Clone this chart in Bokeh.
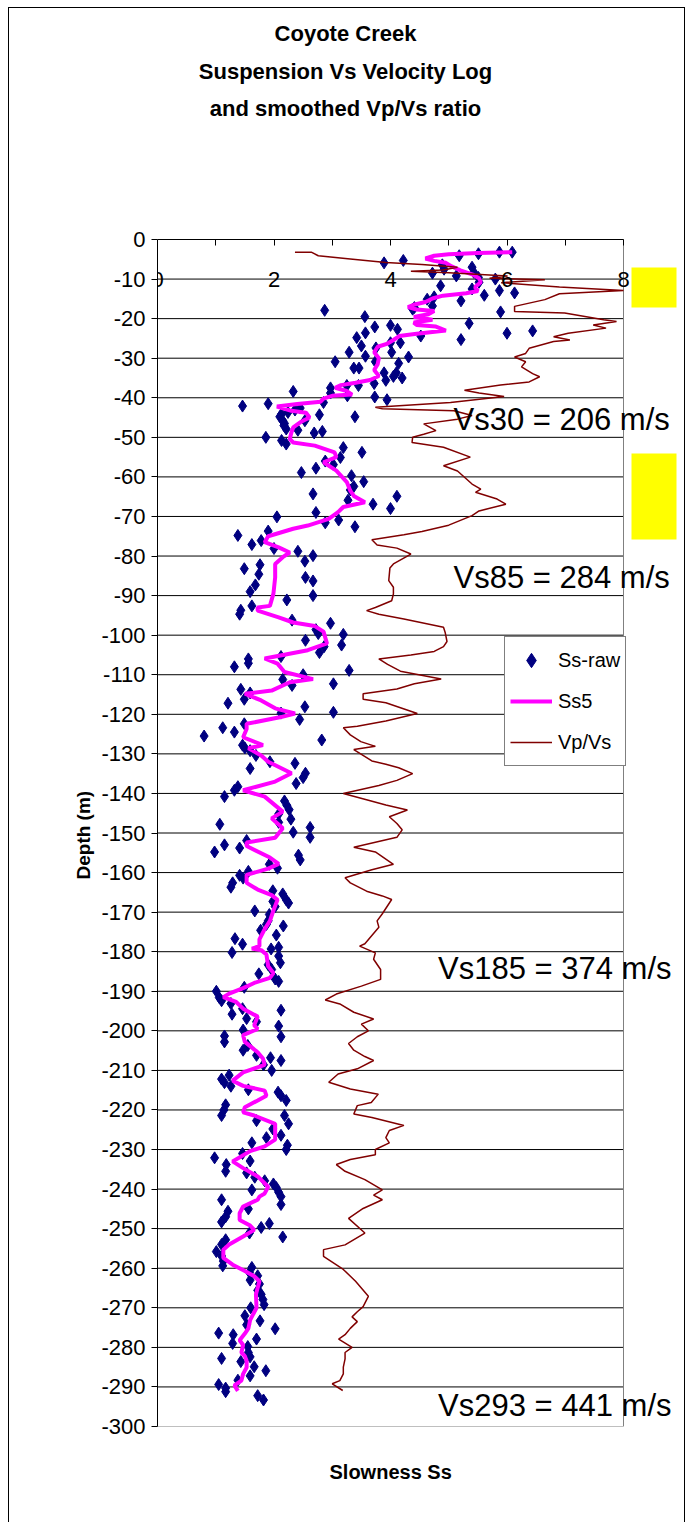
from bokeh.plotting import figure
from bokeh.layouts import column
from bokeh.models import (LinearAxis, FixedTicker, Label, BoxAnnotation, Legend, LegendItem,
                          Range1d, Title)
from bokeh.embed import file_html
from bokeh.resources import INLINE

# ---------------- data ----------------
ss_raw_depth = [
    -3.2, -3.2, -3.6, -4.1, -5.3, -5.9, -6.4, -7.0, -7.5, -8.3, -8.5, -9.2, -9.6, -10.0, -10.8,
    -11.7, -12.5, -12.9, -13.5, -14.1, -14.5, -15.1, -15.5, -16.8, -17.2, -17.6, -17.9, -18.3,
    -19.5, -21.2, -21.7, -22.1, -22.7, -23.1, -23.6, -23.7, -24.4, -24.8, -25.3, -26.1, -26.1,
    -26.9, -27.4, -28.5, -28.5, -29.5, -29.7, -30.9, -30.9, -31.3, -32.5, -32.5, -33.7, -33.7,
    -34.6, -35.0, -35.6, -36.4, -36.9, -36.9, -37.5, -38.4, -38.8, -39.5, -39.8, -40.5, -41.2,
    -41.5, -42.1, -42.6, -43.1, -43.7, -44.1, -44.3, -44.8, -44.8, -45.8, -45.8, -46.5, -47.0,
    -47.9, -48.2, -48.5, -48.9, -50.0, -50.8, -51.7, -52.6, -53.8, -55.1, -56.0, -56.9, -57.8,
    -58.9, -59.7, -61.2, -62.4, -63.3, -64.3, -64.9, -65.9, -66.9, -68.0, -69.0, -70.1, -70.9,
    -71.6, -72.6, -73.7, -74.8, -76.1, -77.1, -78.1, -78.8, -79.9, -81.3, -82.2, -83.2, -84.6,
    -85.4, -86.3, -87.3, -89.0, -90.0, -91.1, -92.6, -93.7, -94.7, -96.2, -97.0, -98.6, -99.6,
    -99.8, -101.3, -102.5, -102.9, -104.4, -105.4, -106.0, -107.1, -108.0, -108.9, -110.0,
    -111.2, -112.3, -112.7, -113.7, -114.6, -116.2, -117.2, -118.1, -119.5, -119.7, -121.3,
    -122.4, -123.4, -124.5, -125.5, -126.5, -127.8, -128.5, -129.2, -130.4, -132.0, -132.4,
    -133.7, -134.9, -136.0, -137.5, -138.3, -139.2, -140.8, -141.9, -143.0, -144.1, -145.2,
    -146.5, -147.3, -147.8, -148.6, -149.8, -151.1, -151.9, -153.0, -153.8, -154.8, -155.6,
    -156.8, -157.9, -158.9, -159.7, -160.7, -161.4, -162.6, -163.7, -164.6, -165.4, -166.9,
    -167.3, -167.7, -168.6, -169.7, -170.6, -172.2, -173.1, -173.5, -174.6, -175.8, -176.7,
    -178.1, -178.9, -179.3, -180.2, -181.1, -182.8, -183.3, -184.5, -185.6, -186.9, -187.5,
    -189.0, -190.0, -191.6, -192.4, -193.1, -194.4, -194.8, -195.8, -196.9, -197.7, -198.8,
    -199.8, -201.3, -201.5, -202.8, -203.7, -204.9, -206.2, -206.8, -207.5, -208.6, -210.0,
    -211.2, -212.2, -213.1, -214.0, -214.9, -215.5, -216.4, -217.6, -218.7, -220.0, -221.4,
    -221.4, -222.7, -223.5, -224.8, -226.4, -227.0, -228.3, -228.9, -230.0, -231.0, -232.1,
    -232.9, -233.8, -235.5, -235.9, -237.0, -237.9, -238.7, -239.6, -240.2, -240.8, -241.9,
    -242.7, -243.9, -245.0, -245.6, -247.0, -248.3, -248.7, -249.7, -251.1, -252.1, -252.8,
    -254.0, -255.8, -256.9, -258.2, -259.4, -259.8, -261.1, -261.9, -263.0, -264.0, -265.6,
    -266.6, -267.9, -269.2, -270.0, -272.0, -273.3, -274.3, -275.3, -276.4, -276.8, -277.9,
    -279.0, -279.8, -281.3, -282.4, -282.8, -283.6, -284.9, -285.9, -287.2, -288.3, -289.4,
    -290.3, -291.2, -292.2, -293.3,
]
ss_raw_slowness = [
    6.09, 5.87, 5.51, 5.18, 4.22, 3.89, 4.89, 5.40, 4.92, 5.43, 4.72, 5.13, 5.51, 5.80, 5.52,
    4.86, 5.40, 5.87, 6.13, 5.61, 4.75, 4.63, 5.21, 4.72, 4.41, 4.38, 2.87, 5.89,
    3.56, 5.35, 4.00, 3.73, 4.12, 6.44, 3.57, 6.00, 4.52, 3.42, 5.21, 4.17, 4.00,
    3.50, 3.75, 3.29, 4.02, 3.57, 4.31, 3.05, 3.74, 4.14, 3.37, 3.46, 3.89, 4.10,
    4.05, 4.20, 3.92, 3.72, 3.25, 3.45, 2.97, 2.33, 2.97, 3.26, 3.73, 3.94, 2.85,
    1.90, 1.46, 2.45, 2.36, 2.24, 2.13, 2.78, 3.39, 2.10, 2.15, 2.53, 2.18, 2.17,
    2.21, 2.41, 2.83, 2.69, 1.86, 2.13, 2.21, 3.19, 3.51, 3.14, 2.88, 3.02, 2.72,
    2.47, 3.33, 3.54, 3.37, 3.31, 2.67, 4.11, 3.27, 3.70, 4.00, 2.72, 2.05, 3.11,
    2.88, 3.39, 1.90, 1.38, 1.78, 1.62, 2.00, 2.41, 2.67, 2.53, 1.76, 1.49, 1.74,
    2.54, 2.67, 1.68, 1.59, 2.67, 2.22, 1.62, 1.43, 1.41, 2.31, 2.97, 2.72, 2.76,
    3.19, 2.54, 3.16, 2.86, 2.78, 2.12, 1.56, 1.56, 1.32, 3.29, 2.50,
    2.15, 3.02, 2.31, 1.43, 1.59, 1.49, 1.21, 2.53, 3.02, 2.12, 2.44,
    1.49, 1.12, 1.32, 0.80, 2.82, 1.46, 1.50, 1.59, 1.69, 1.93, 2.36,
    1.59, 2.54, 2.50, 2.38, 1.38, 1.32, 1.15, 2.18, 2.22, 2.26, 2.08,
    2.29, 2.08, 1.07, 2.62, 2.33, 2.62, 1.53, 1.15, 1.41, 0.98, 2.42,
    2.45, 1.92, 2.06, 1.56, 1.41, 1.47, 1.29, 1.26, 1.98, 2.15, 2.21,
    1.98, 2.25, 2.02, 1.67, 1.92, 1.90, 1.87, 2.16, 1.77, 2.04, 1.33,
    1.46, 2.08, 1.95, 1.28, 2.08, 2.11, 1.90, 1.96, 1.74, 2.02, 2.08,
    1.49, 1.01, 1.06, 1.10, 1.26, 1.46, 2.12, 1.28, 1.53, 1.70, 2.08,
    1.47, 1.15, 2.12, 1.15, 1.55, 1.47, 1.70, 1.94, 2.12, 1.82, 1.96,
    1.23, 1.10, 1.15, 1.26, 1.56, 2.07, 2.12, 2.21, 1.17, 1.14, 1.10,
    2.18, 1.70, 2.25, 1.98, 2.12, 1.87, 1.62, 2.23, 2.21, 1.46, 0.98,
    1.59, 1.18, 1.17, 1.53, 1.67, 1.84, 1.99, 2.04, 1.62, 2.08, 2.12,
    1.10, 2.12, 1.56, 1.21, 1.17, 1.10, 1.92, 1.78, 1.58, 2.15, 1.17,
    1.10, 1.01, 1.10, 1.13, 1.12, 1.62, 1.58, 1.72, 1.59, 1.75, 1.72,
    1.78, 1.81, 1.83, 1.60, 1.50, 1.76, 1.53, 2.02, 1.05, 1.30, 1.70,
    1.29, 1.55, 1.56, 1.59, 1.10, 1.43, 1.66, 1.86, 1.59, 1.38, 1.05,
    1.17, 1.17, 1.72, 1.82,
]

ss5_depth = [
    -3.2, -3.4, -3.7, -4.1, -4.8, -5.4, -5.9, -6.8, -7.8, -8.8, -9.8, -10.8, -12.0, -13.0,
    -13.6, -14.2, -14.9, -15.8, -16.5, -17.1, -17.7, -18.1, -18.9, -19.6, -20.3, -21.0, -21.6,
    -22.0, -23.0, -23.8, -24.4, -25.4, -26.3, -27.1, -28.5, -30.0, -31.5, -33.0, -34.5, -35.5,
    -36.2, -36.8, -37.5, -38.3, -39.2, -39.5, -40.2, -41.0, -41.6, -42.2, -43.3, -43.8, -45.0,
    -46.2, -47.5, -48.7, -50.4, -51.3, -52.1, -53.8, -55.0, -56.3, -58.4, -61.3, -63.5, -64.8,
    -66.4, -67.6, -68.9, -70.6, -72.3, -73.1, -75.0, -76.5, -77.8, -79.1, -80.3, -82.0, -85.4,
    -89.5, -92.6, -93.0, -93.8, -95.5, -96.8, -97.7, -99.1, -102.1, -103.8, -105.9, -107.2,
    -109.3, -111.1, -111.9, -114.0, -114.8, -116.5, -118.5, -119.8, -120.7, -122.4, -123.7,
    -125.8, -127.8, -128.6, -130.4, -132.0, -134.9, -137.0, -139.2, -140.8, -144.6, -146.3,
    -148.8, -151.2, -152.4, -153.3, -156.2, -157.8, -159.0, -160.6, -162.6, -164.3, -165.7,
    -166.9, -169.6, -172.2, -174.3, -176.9, -178.6, -179.2, -179.6, -180.7, -183.7, -185.4,
    -186.6, -187.9, -189.2, -190.6, -191.5, -192.7, -194.4, -196.4, -198.6, -199.5, -201.1,
    -202.8, -205.4, -207.0, -208.6, -210.5, -212.6, -213.9, -215.1, -216.4, -217.6, -219.3,
    -220.6, -221.4, -223.5, -227.5, -229.2, -230.4, -233.0, -234.7, -236.8, -239.4, -241.1,
    -241.9, -242.7, -244.4, -246.1, -247.8, -249.2, -250.3, -252.0, -254.0, -255.3, -257.4,
    -259.1, -260.7, -262.0, -263.3, -266.6, -270.0, -273.1, -275.2, -276.5, -278.2, -279.4,
    -281.3, -282.2, -283.4, -285.1, -286.7, -288.4, -289.6, -291.0,
]
ss5_slowness = [
    6.09, 5.50, 5.00, 4.75, 4.60, 4.75, 4.95, 5.05, 5.20, 5.40, 5.52, 5.55, 5.45, 5.50,
    5.30, 4.90, 4.72, 4.60, 4.40, 4.30, 4.45, 4.75, 4.65, 4.40, 4.72, 4.40, 4.45,
    4.78, 4.95, 4.45, 4.15, 4.05, 3.95, 3.78, 3.72, 3.80, 3.78, 3.72, 3.80, 3.65,
    3.40, 3.15, 3.05, 3.25, 3.34, 3.00, 2.85, 2.80, 2.40, 2.05, 2.30, 2.55, 2.61,
    2.45, 2.33, 2.30, 2.27, 2.33, 2.70, 3.04, 3.07, 2.85, 3.07, 3.25, 3.31, 3.37,
    3.56, 3.19, 3.10, 2.94, 2.58, 2.33, 1.90, 1.84, 2.08, 2.27, 2.15, 2.02, 2.02,
    1.99, 1.93, 1.72, 1.72, 2.08, 2.33, 2.70, 2.85, 2.91, 2.58, 1.84, 2.06,
    2.18, 2.67, 2.27, 1.96, 1.50, 1.78, 2.02, 2.36, 2.12, 1.53, 1.53,
    1.47, 1.81, 1.56, 1.78, 1.90, 2.30, 2.02, 1.47, 1.84, 2.15, 1.96,
    2.15, 2.02, 1.53, 1.53, 1.93, 2.08, 1.90, 1.53, 1.53, 1.72, 1.96,
    2.06, 1.99, 1.93, 1.84, 1.75, 1.75, 1.62, 1.78, 1.87, 1.90, 1.99,
    1.93, 1.66, 1.47, 1.23, 1.13, 1.35, 1.47, 1.72, 1.66, 1.72, 1.47,
    1.50, 1.72, 1.81, 1.84, 1.47, 1.29, 1.47, 1.84, 1.87, 1.72, 1.50,
    1.47, 1.66, 2.02, 2.02, 1.84, 1.59, 1.29, 1.47, 1.72, 1.90, 1.84,
    1.75, 1.72, 1.47, 1.41, 1.41, 1.59, 1.66, 1.47, 1.23, 1.13, 1.13,
    1.29, 1.50, 1.66, 1.75, 1.69, 1.70, 1.59, 1.56, 1.50, 1.41, 1.47,
    1.44, 1.50, 1.53, 1.53, 1.47, 1.44, 1.32, 1.38,
]

vpvs_depth = [
    -3.2, -3.2, -4.1, -4.9, -5.8, -6.3, -7.0, -7.7, -8.0, -8.4, -9.2, -9.8, -10.2, -10.9,
    -12.0, -12.9, -13.7, -15.2, -16.9, -18.2, -18.6, -20.3, -20.7, -21.6, -22.4, -23.7, -24.6,
    -25.4, -25.8, -27.5, -28.8, -29.7, -30.9, -32.2, -33.9, -34.7, -36.0, -36.8, -38.1, -38.8,
    -39.7, -41.2, -42.4, -42.8, -43.3, -44.5, -45.4, -46.6, -48.3, -49.2, -50.0, -51.3, -52.5,
    -55.0, -57.2, -58.5, -61.8, -63.1, -63.9, -65.6, -66.9, -68.6, -69.8, -72.2, -73.8, -74.6,
    -75.9, -77.2, -78.0, -79.5, -82.0, -83.0, -86.2, -87.9, -89.6, -91.3, -93.0, -93.8, -94.7,
    -95.9, -98.0, -99.4, -101.6, -102.9, -104.1, -105.0, -106.0, -107.4, -109.1, -111.1,
    -112.3, -113.6, -114.8, -116.2, -117.1, -119.8, -121.7, -123.0, -123.4, -125.2, -126.9,
    -128.1, -128.9, -131.8, -132.6, -133.5, -135.0, -136.7, -138.0, -140.0, -141.7, -142.9,
    -144.2, -145.9, -147.6, -149.2, -151.1, -153.6, -154.8, -157.9, -159.3, -161.3, -162.6,
    -164.7, -165.9, -166.8, -170.4, -172.2, -173.8, -175.9, -178.0, -178.6, -180.3, -181.9,
    -184.5, -187.0, -188.7, -190.7, -192.2, -193.2, -195.3, -197.0, -198.3, -200.0, -201.5,
    -203.2, -204.9, -206.5, -207.5, -209.6, -210.9, -213.0, -214.7, -216.0, -218.1, -218.9,
    -221.0, -221.9, -223.9, -225.2, -227.0, -228.3, -230.0, -231.3, -232.5, -233.8, -235.5,
    -237.6, -240.2, -241.5, -242.7, -244.9, -247.4, -251.1, -254.1, -255.3, -257.0, -260.3,
    -263.3, -267.1, -269.7, -271.0, -272.3, -273.5, -275.2, -276.8, -277.9, -280.0, -281.3,
    -282.9, -285.0, -286.7, -288.4, -289.2, -290.9,
]
vpvs_ratio = [
    2.36, 2.64, 2.76, 3.31, 3.92, 4.54, 5.15, 4.90, 4.35, 5.00, 6.01, 5.70, 6.65, 5.90,
    6.90, 8.00, 6.90, 6.65, 6.13, 6.13, 6.99, 7.66, 7.88, 7.48, 7.70, 7.05, 6.80,
    7.08, 6.80, 6.38, 6.32, 6.13, 6.32, 6.25, 6.44, 6.56, 6.38, 5.89, 5.27, 5.52,
    5.95, 5.03, 3.74, 3.86, 5.09, 5.40, 5.15, 4.57, 4.78, 4.57, 4.38, 4.37, 4.91,
    5.37, 4.91, 5.15, 5.40, 5.55, 5.46, 5.83, 5.98, 5.52, 5.40, 5.00, 4.54, 4.23,
    3.68, 3.77, 4.11, 4.35, 4.05, 3.99, 3.97, 4.05, 4.05, 4.02, 3.74, 3.59, 3.80,
    4.23, 4.91, 4.94, 4.97, 4.91, 4.75, 4.35, 3.80, 3.95, 4.17, 4.87,
    4.41, 4.11, 3.53, 3.53, 3.92, 4.46, 3.92, 3.43, 3.19, 3.31, 3.49,
    3.74, 3.37, 3.68, 3.92, 4.14, 4.38, 4.11, 3.80, 3.19, 3.62, 3.92,
    4.29, 3.98, 4.11, 4.20, 4.11, 3.37, 3.74, 4.05, 3.68, 3.22, 3.31,
    3.59, 3.86, 4.02, 3.86, 3.77, 3.80, 3.68, 3.56, 3.47, 3.74, 3.71,
    3.83, 3.83, 3.50, 3.07, 2.88, 3.13, 3.37, 3.71, 3.50, 3.62, 3.43,
    3.28, 3.37, 3.56, 3.71, 3.43, 3.10, 2.94, 3.31, 3.79, 3.67, 3.43,
    3.37, 3.68, 4.23, 3.98, 3.92, 3.98, 3.74, 3.74, 3.31, 3.07, 3.22,
    3.56, 3.86, 3.71, 3.86, 3.53, 3.28, 3.56, 3.22, 2.85, 2.85, 3.19,
    3.40, 3.62, 3.53, 3.43, 3.34, 3.43, 3.31, 3.22, 3.11, 3.34, 3.22,
    3.22, 3.19, 3.19, 3.13, 3.00, 3.18,
]

x_tick_values = [0, 1, 2, 3, 4, 5, 6, 7, 8]
x_tick_labels = ["0", "", "2", "", "4", "", "6", "", "8"]
y_tick_values = list(range(-300, 1, 10))
y_tick_labels = [str(v) for v in y_tick_values]
title_lines = ["Coyote Creek", "Suspension Vs Velocity Log", "and smoothed Vp/Vs ratio"]
vs_texts = ["Vs30 = 206 m/s", "Vs85 = 284 m/s", "Vs185 = 374 m/s", "Vs293 = 441 m/s"]
legend_names = ["Ss-raw", "Ss5", "Vp/Vs"]
x_title = "Slowness Ss"
y_title = "Depth (m)"

# ---------------- geometry ----------------
FONT = "Liberation Sans, Arial, sans-serif"
X_MIN, X_MAX = 0, 8          # plot-area limits (slowness)
D_TOP, D_BOT = 0, -300       # plot-area limits (depth)
OX, OY = 9, 8                # figure origin on the page (inside the chart border)
FIG_W, FIG_H = 675, 1514
PL, PR, PT, PB = 157, 623, 239, 1426   # plot-area edges on the page
FT = 20                                 # top of drawing frame on the page
XPX = (PR - PL) / (X_MAX - X_MIN)       # px per slowness unit
YPX = (PB - PT) / (D_TOP - D_BOT)       # px per metre


def dx(px):
    return X_MIN + (px - PL) / XPX


def dy(py):
    return D_TOP - (py - PT) / YPX


p = figure(width=FIG_W, height=FIG_H,
           x_range=Range1d(X_MIN, dx(OX + FIG_W)), y_range=Range1d(D_BOT, dy(FT)),
           output_backend="svg", toolbar_location=None,
           x_axis_location=None, y_axis_location="left",
           min_border_left=PL - OX, min_border_right=0,
           min_border_top=FT - OY, min_border_bottom=OY + FIG_H - PB)
p.background_fill_color = "white"
p.border_fill_color = "white"
p.outline_line_color = None
p.xgrid.visible = False
p.ygrid.visible = False

# horizontal grid lines confined to the plot area
grid_ticks = [t for t in y_tick_values if D_BOT < t < D_TOP]
p.segment(x0=[X_MIN] * len(grid_ticks), y0=grid_ticks, x1=[X_MAX] * len(grid_ticks), y1=grid_ticks,
          line_color="black", line_width=1)
# grey right and bottom edges of the plot area
p.segment(x0=[X_MAX, X_MIN], y0=[D_TOP, D_BOT], x1=[X_MAX, X_MAX], y1=[D_BOT, D_BOT],
          line_color="#808080", line_width=1)

ya = p.yaxis[0]
ya.ticker = FixedTicker(ticks=y_tick_values)
ya.bounds = (D_BOT, D_TOP)
ya.major_label_overrides = dict(zip(y_tick_values, y_tick_labels))
ya.major_tick_out = 6
ya.major_tick_in = 0
ya.minor_tick_line_color = None
ya.major_label_standoff = 6
ya.major_label_text_font = FONT
ya.major_label_text_font_size = "22px"
ya.major_label_text_color = "black"
ya.axis_line_color = "black"
ya.major_tick_line_color = "black"

# y title, placed beside the depth axis and centred on the plot area
p.add_layout(Title(text=y_title, align="left", offset=PB - 879, standoff=10,
                   text_font=FONT, text_font_style="bold", text_font_size="19px",
                   text_color="black"), "left")

# x axis fixed at depth 0: ticks point down into the plot, labels sit just inside
top = LinearAxis(fixed_location=D_TOP, bounds=(X_MIN, X_MAX),
                 ticker=FixedTicker(ticks=x_tick_values),
                 major_label_overrides=dict(zip(x_tick_values, x_tick_labels)),
                 major_tick_in=6, major_tick_out=0, minor_tick_line_color=None,
                 major_label_standoff=-47, major_label_text_font=FONT,
                 major_label_text_font_size="22px", major_label_text_color="black",
                 axis_line_color="black", major_tick_line_color="black")
p.add_layout(top, "above")

# x title below the plot area
p.add_layout(Title(text=x_title, align="left", offset=329 - PL, vertical_align="top",
                   standoff=68, text_font=FONT, text_font_style="bold",
                   text_font_size="20px", text_color="black"), "below")

# yellow highlight boxes to the right of the plot area
for y0, y1 in [(267, 307), (453, 539)]:
    p.add_layout(BoxAnnotation(left=dx(631), right=dx(676), top=dy(y0), bottom=dy(y1),
                               fill_color="#FFFF00", fill_alpha=1, line_color=None))

# series
r_raw = p.scatter(ss_raw_slowness, ss_raw_depth, marker="diamond", size=12,
                  fill_color="#000080", line_color="#000080", line_width=1)
r_ss5 = p.line(ss5_slowness, ss5_depth, line_color="#FF00FF", line_width=4)
r_vp = p.line(vpvs_ratio, vpvs_depth, line_color="#800000", line_width=1.5)

legend = Legend(items=[LegendItem(label=legend_names[0], renderers=[r_raw]),
                       LegendItem(label=legend_names[1], renderers=[r_ss5]),
                       LegendItem(label=legend_names[2], renderers=[r_vp])],
                location=(504 - PL, PB - 766), orientation="vertical",
                glyph_width=42, glyph_height=36, spacing=5, padding=5, margin=0,
                label_standoff=6, label_text_font=FONT, label_text_font_size="20px",
                label_text_color="black", border_line_color="black", border_line_width=1,
                background_fill_color="white", background_fill_alpha=1)
p.add_layout(legend)

# title lines
for txt, py in zip(title_lines, [33, 71, 108]):
    p.add_layout(Label(x=dx(345), y=dy(py), text=txt, text_align="center", text_baseline="middle",
                       text_font=FONT, text_font_style="bold", text_font_size="22px",
                       text_color="black"))

# Vs annotations
for txt, px, py in zip(vs_texts, [453, 453, 437.5, 437.5], [419, 577, 968, 1405]):
    p.add_layout(Label(x=dx(px), y=dy(py), text=txt, text_align="left", text_baseline="middle",
                       text_font=FONT, text_font_size="31px", text_color="black"))

root = column(p, styles={"margin-left": "8px", "margin-top": "7px",
                         "border-left": "1px solid black", "border-top": "1px solid black",
                         "border-right": "1px solid black"})

open("out.html", "w").write(file_html(root, INLINE))
